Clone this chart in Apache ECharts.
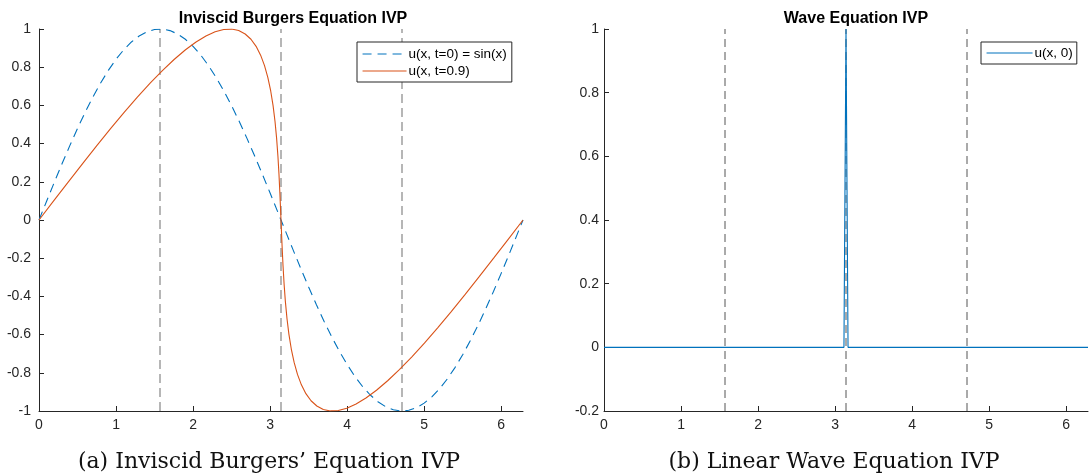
<!DOCTYPE html>
<html>
<head>
<meta charset="utf-8">
<script src="https://cdn.jsdelivr.net/npm/echarts@6/dist/echarts.min.js"></script>
<style>
html,body{margin:0;padding:0;background:#fff;}
#chart{width:1092px;height:474px;}
</style>
</head>
<body>
<div id="chart"></div>
<script>
// ---- data ----
const xTickValues = [0, 1, 2, 3, 4, 5, 6];
const xMax = 6.2832;
const guideX = [1.5708, 3.1416, 4.7124];

// left panel: initial condition u(x, t=0) = sin(x)
const sinX = [0, 0.1, 0.2, 0.3, 0.4, 0.5, 0.6, 0.7, 0.8, 0.9, 1.0, 1.1, 1.2, 1.3, 1.4, 1.5, 1.6, 1.7, 1.8, 1.9, 2.0, 2.1, 2.2, 2.3, 2.4, 2.5, 2.6, 2.7, 2.8, 2.9, 3.0, 3.1, 3.2, 3.3, 3.4, 3.5, 3.6, 3.7, 3.8, 3.9, 4.0, 4.1, 4.2, 4.3, 4.4, 4.5, 4.6, 4.7, 4.8, 4.9, 5.0, 5.1, 5.2, 5.3, 5.4, 5.5, 5.6, 5.7, 5.8, 5.9, 6.0, 6.1, 6.2, 6.2832];
const sinY = [0, 0.0998, 0.1987, 0.2955, 0.3894, 0.4794, 0.5646, 0.6442, 0.7174, 0.7833, 0.8415, 0.8912, 0.9320, 0.9636, 0.9854, 0.9975, 0.9996, 0.9917, 0.9738, 0.9463, 0.9093, 0.8632, 0.8085, 0.7457, 0.6755, 0.5985, 0.5155, 0.4274, 0.3350, 0.2392, 0.1411, 0.0416, -0.0584, -0.1577, -0.2555, -0.3508, -0.4425, -0.5298, -0.6119, -0.6878, -0.7568, -0.8183, -0.8716, -0.9162, -0.9516, -0.9775, -0.9937, -0.9999, -0.9962, -0.9825, -0.9589, -0.9258, -0.8835, -0.8323, -0.7728, -0.7055, -0.6313, -0.5507, -0.4646, -0.3739, -0.2794, -0.1822, -0.0831, 0];

// left panel: u(x, t=0.9)
const burgX = [0, 0.1898, 0.3788, 0.5660, 0.7505, 0.9315, 1.1081, 1.2798, 1.4457, 1.6050, 1.7573, 1.9021, 2.0388, 2.1672, 2.2869, 2.3978, 2.4996, 2.5925, 2.6764, 2.7517, 2.8184, 2.8769, 2.9277, 2.9711, 3.0080, 3.0387, 3.0640, 3.0847, 3.1015, 3.1153, 3.1270, 3.1374, 3.1416, 3.1458, 3.1562, 3.1679, 3.1817, 3.1985, 3.2192, 3.2445, 3.2752, 3.3121, 3.3555, 3.4063, 3.4648, 3.5315, 3.6068, 3.6907, 3.7836, 3.8854, 3.9963, 4.1160, 4.2444, 4.3811, 4.5259, 4.6782, 4.8375, 5.0034, 5.1751, 5.3517, 5.5327, 5.7172, 5.9044, 6.0934, 6.2832];
const burgY = [0, 0.0998, 0.1987, 0.2955, 0.3894, 0.4794, 0.5646, 0.6442, 0.7174, 0.7833, 0.8415, 0.8912, 0.9320, 0.9636, 0.9854, 0.9975, 0.9996, 0.9917, 0.9738, 0.9463, 0.9093, 0.8632, 0.8085, 0.7457, 0.6755, 0.5985, 0.5155, 0.4274, 0.3350, 0.2392, 0.1411, 0.0416, 0, -0.0416, -0.1411, -0.2392, -0.3350, -0.4274, -0.5155, -0.5985, -0.6755, -0.7457, -0.8085, -0.8632, -0.9093, -0.9463, -0.9738, -0.9917, -0.9996, -0.9975, -0.9854, -0.9636, -0.9320, -0.8912, -0.8415, -0.7833, -0.7174, -0.6442, -0.5646, -0.4794, -0.3894, -0.2955, -0.1987, -0.0998, 0];

// right panel: u(x, 0) narrow spike at pi
const waveX = [0, 3.115, 3.1416, 3.168, 6.2832];
const waveY = [0, 0, 1, 0, 0];

const titles = ['Inviscid Burgers Equation IVP', 'Wave Equation IVP'];
const captions = ["(a) Inviscid Burgers\u2019 Equation IVP", '(b) Linear Wave Equation IVP'];
const legendNames = ['u(x, t=0) = sin(x)', 'u(x, t=0.9)', 'u(x, 0)'];

// ---- build chart ----
const zip = (xs, ys) => xs.map((x, i) => [x, ys[i]]);
const axisColor = '#262626';
const sans = 'Liberation Sans, Arial, Helvetica, sans-serif';
const tickFont = 14;

function xAxisFor(gi) {
  return {
    type: 'value', gridIndex: gi, min: 0, max: xMax,
    axisLine: {show: true, onZero: false, lineStyle: {color: axisColor, width: 1}},
    axisTick: {show: true, inside: true, length: 5, lineStyle: {color: axisColor}, customValues: xTickValues},
    axisLabel: {color: axisColor, fontSize: tickFont, fontFamily: sans, margin: 7, customValues: xTickValues},
    splitLine: {show: false}
  };
}
function yAxisFor(gi, mn, mx) {
  return {
    type: 'value', gridIndex: gi, min: mn, max: mx, interval: 0.2,
    axisLine: {show: true, onZero: false, lineStyle: {color: axisColor, width: 1}},
    axisTick: {show: true, inside: true, length: 5, lineStyle: {color: axisColor}},
    axisLabel: {color: axisColor, fontSize: tickFont, fontFamily: sans, margin: gi === 0 ? 8 : 5,
      formatter: v => String(Math.round(v * 10) / 10)},
    splitLine: {show: false}
  };
}
function guides(gi, y0, y1, color, dash, w) {
  return guideX.map((gx, k) => ({
    type: 'line', name: 'guide' + gi + '_' + k, xAxisIndex: gi, yAxisIndex: gi,
    data: [[gx, y0], [gx, y1]], symbol: 'none', silent: true, animation: false,
    lineStyle: {color: color, width: w, type: dash}, z: 1
  }));
}
const legendCommon = {
  orient: 'vertical', selectedMode: false, itemHeight: 14, itemGap: 3,
  borderColor: axisColor, borderWidth: 1, borderRadius: 0, backgroundColor: '#fff',
  itemStyle: {opacity: 0, borderWidth: 0},
  lineStyle: {width: 1.1},
  textStyle: {fontSize: 13.5, fontFamily: sans, color: '#000', padding: [0, 0, 0, -3]}
};

const option = {
  animation: false,
  backgroundColor: '#ffffff',
  title: [
    {text: titles[0], left: 288, top: 6, textAlign: 'center', textStyle: {fontSize: 16, fontWeight: 'bold', fontFamily: sans, color: '#000'}},
    {text: titles[1], left: 851, top: 6, textAlign: 'center', textStyle: {fontSize: 16, fontWeight: 'bold', fontFamily: sans, color: '#000'}},
    {text: captions[0], left: 264, top: 446, textAlign: 'center', textStyle: {fontSize: 22, fontWeight: 'normal', fontFamily: 'DejaVu Serif, serif', color: '#111'}},
    {text: captions[1], left: 829, top: 446, textAlign: 'center', textStyle: {fontSize: 22, fontWeight: 'normal', fontFamily: 'DejaVu Serif, serif', color: '#111'}}
  ],
  grid: [
    {left: 39, right: 569, top: 29, bottom: 63, containLabel: false},
    {left: 604, right: 4, top: 29, bottom: 63, containLabel: false}
  ],
  xAxis: [xAxisFor(0), xAxisFor(1)],
  yAxis: [yAxisFor(0, -1, 1), yAxisFor(1, -0.2, 1)],
  legend: [
    Object.assign({}, legendCommon, {data: [legendNames[0], legendNames[1]], left: 357, top: 42,
      itemWidth: 44, padding: [5, 5, 4, 5]}),
    Object.assign({}, legendCommon, {data: [legendNames[2]], left: 981, top: 42,
      itemWidth: 46, padding: [4, 4, 4, 5]})
  ],
  series: [
    ...guides(0, -1, 1, '#8f8f8f', [9, 5], 1.3),
    ...guides(1, -0.2, 1, '#555555', [8, 5], 1),
    {type: 'line', name: legendNames[0], xAxisIndex: 0, yAxisIndex: 0, data: zip(sinX, sinY),
     symbol: 'none', smooth: false, lineStyle: {color: '#0072BD', width: 1.1, type: [9, 6]}, itemStyle: {color: '#0072BD'}, z: 3},
    {type: 'line', name: legendNames[1], xAxisIndex: 0, yAxisIndex: 0, data: zip(burgX, burgY),
     symbol: 'none', smooth: false, lineStyle: {color: '#D95319', width: 1.1}, itemStyle: {color: '#D95319'}, z: 4},
    {type: 'line', name: legendNames[2], xAxisIndex: 1, yAxisIndex: 1, data: zip(waveX, waveY),
     symbol: 'none', smooth: false, lineStyle: {color: '#0072BD', width: 1.1}, itemStyle: {color: '#0072BD'}, z: 3}
  ]
};

const chart = echarts.init(document.getElementById('chart'), null, {renderer: 'canvas'});
chart.setOption(option);
</script>
</body>
</html>
